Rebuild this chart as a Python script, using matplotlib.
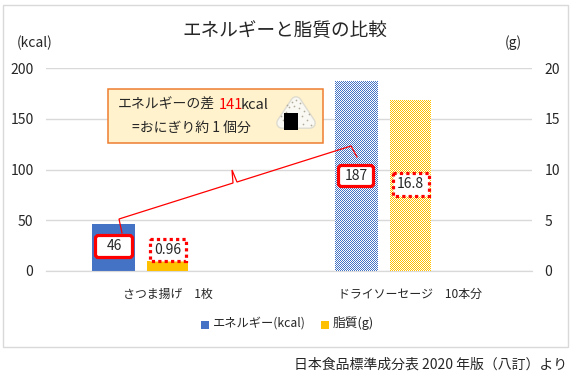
# -*- coding: utf-8 -*-
import matplotlib
matplotlib.use('Agg')
import numpy as np
import matplotlib.pyplot as plt
from matplotlib.colors import to_rgb
from matplotlib.patches import FancyBboxPatch, Rectangle, Polygon

plt.rcParams['font.family'] = ['Noto Sans CJK JP', 'DejaVu Sans']

categories = ['さつま揚げ　1枚', 'ドライソーセージ　10本分']
energy_kcal = [46, 187]
fat_g = [0.96, 16.8]
fat_labels = ['0.96', '16.8']
kcal_ticks = [0, 50, 100, 150, 200]
g_ticks = [0, 5, 10, 15, 20]

W, H = 575, 383
BLUE = '#4472C4'
GOLD = '#FFC000'
GREY = '#D9D9D9'
TXT = '#262626'
RED = '#FF0000'

fig = plt.figure(figsize=(W / 100, H / 100), dpi=100)
ax = fig.add_axes([46 / W, 1 - 271 / H, (532 - 46) / W, (271 - 68) / H])
ax2 = ax.twinx()

xs = list(range(len(categories)))
off = -0.224
ax.bar([x + off for x in xs], energy_kcal, width=0.177, color=BLUE, zorder=3)
ax2.bar(xs, fat_g, width=0.169, color=GOLD, zorder=3)

ax.set_xlim(-0.5, 1.5)
ax.set_ylim(0, 200)
ax2.set_ylim(0, 20)
ax.set_yticks(kcal_ticks)
ax2.set_yticks(g_ticks)
ax.set_xticks(xs)
ax.set_xticklabels(categories)
ax.grid(True, axis='y', color=GREY, linewidth=1, zorder=0)
ax.set_axisbelow(True)
ax.tick_params(axis='y', length=0, labelsize=10, labelcolor=TXT, pad=9)
ax2.tick_params(axis='y', length=0, labelsize=10, labelcolor=TXT, pad=9)
ax.tick_params(axis='x', length=0, labelsize=8.6, labelcolor=TXT, pad=12)
for a in (ax, ax2):
    for name, s in a.spines.items():
        s.set_visible(name == 'bottom')
        s.set_color(GREY)

# 注釈用のピクセル座標レイヤー
ov = fig.add_axes([0, 0, 1, 1], zorder=10)
ov.axis('off')
ov.patch.set_alpha(0)


def checker_fill(bar, color):
    """1ピクセル市松のディザで棒を塗る"""
    box = bar.get_window_extent()
    x0, x1 = int(round(box.x0)), int(round(box.x1))
    y0, y1 = int(round(box.y0)), int(round(box.y1))
    yy, xx = np.indices((y1 - y0, x1 - x0))
    img = np.ones((y1 - y0, x1 - x0, 3))
    img[(xx + yy) % 2 == 0] = to_rgb(color)
    ov.imshow(img, extent=(x0, x1, H - y0, H - y1), aspect='auto',
              interpolation='nearest', zorder=0.5)


# 2本目は市松のディザ
checker_fill(ax.patches[1], BLUE)
checker_fill(ax2.patches[1], GOLD)
ov.set_xlim(0, W)
ov.set_ylim(H, 0)

ov.add_patch(Rectangle((2.5, 4.5), 565, 342, fill=False, edgecolor=GREY, linewidth=1))
ov.text(285, 31, 'エネルギーと脂質の比較', ha='center', va='center', fontsize=13.4, color=TXT)
ov.text(34.5, 43, '(kcal)', ha='center', va='center', fontsize=10, color=TXT)
ov.text(513.5, 43, '(g)', ha='center', va='center', fontsize=10, color=TXT)
ov.text(567, 365, '日本食品標準成分表 2020 年版（八訂）より', ha='right', va='center',
        fontsize=10, color=TXT)

# 吹き出し
ov.add_patch(Rectangle((107.5, 88.5), 215, 54, facecolor='#FFF2CC', edgecolor='#ED7D31', linewidth=1.1))
ov.text(118, 105, 'エネルギーの差', ha='left', va='center', fontsize=10, color=TXT)
ov.text(219, 105, '141', ha='left', va='center', fontsize=10.5, color=RED)
ov.text(241, 105, 'kcal', ha='left', va='center', fontsize=10.5, color=TXT)
ov.text(132, 128, '=おにぎり約 1 個分', ha='left', va='center', fontsize=10, color=TXT)

# おにぎり
tri = [(296, 102), (310, 123), (282, 123)]
ov.add_patch(Polygon(tri, closed=True, facecolor='#F7F5EE', edgecolor='#DEDBCF', linewidth=8.5,
                     joinstyle='round'))
ov.add_patch(Polygon(tri, closed=True, facecolor='#F9F8F2', edgecolor='#F9F8F2', linewidth=6.5,
                     joinstyle='round'))
specks_x = [292, 296, 300, 289, 294, 299, 304, 286, 302, 307, 283, 311, 303, 287, 281, 309]
specks_y = [102, 100, 103, 107, 106, 108, 111, 112, 116, 120, 120, 125, 124, 105, 116, 114]
ov.scatter(specks_x, specks_y, s=1.5, color='#B0AB98', linewidths=0)
ov.add_patch(Rectangle((284, 113), 14, 17, facecolor='black', edgecolor='none'))

# 差を示す線
ov.plot([122, 119, 233, 232, 237, 351, 357],
        [233, 219, 183, 170, 182, 146, 157], color=RED, linewidth=0.9, solid_joinstyle='miter')

# データラベル
boxes = [
    (94, 234, 40, 25, str(energy_kcal[0]), 'solid'),
    (337, 164, 38, 24, str(energy_kcal[1]), 'solid'),
    (148, 237, 39, 25, fat_labels[0], 'dotted'),
    (391, 171, 39, 26, fat_labels[1], 'dotted'),
]
for x0, y0, w, h, label, style in boxes:
    if style == 'solid':
        ov.add_patch(FancyBboxPatch((x0 + 3, y0 + 3), w - 6, h - 6, boxstyle='round,pad=1.5,rounding_size=3',
                                    facecolor='white', edgecolor=RED, linewidth=2.3))
    else:
        ov.add_patch(Rectangle((x0 + 1.5, y0 + 1.5), w - 3, h - 3, facecolor='white', edgecolor=RED,
                               linewidth=2.3, linestyle=(0, (1, 1))))
    ov.text(x0 + w / 2, y0 + h / 2, label, ha='center', va='center', fontsize=10, color=TXT)

# 凡例
ov.add_patch(Rectangle((201, 321), 8, 8, facecolor=BLUE, edgecolor='none'))
ov.text(213, 323, 'エネルギー(kcal)', ha='left', va='center', fontsize=8.8, color=TXT)
ov.add_patch(Rectangle((321, 321), 8, 8, facecolor=GOLD, edgecolor='none'))
ov.text(333, 323, '脂質(g)', ha='left', va='center', fontsize=9.2, color=TXT)

fig.savefig('out.png', dpi=100)
